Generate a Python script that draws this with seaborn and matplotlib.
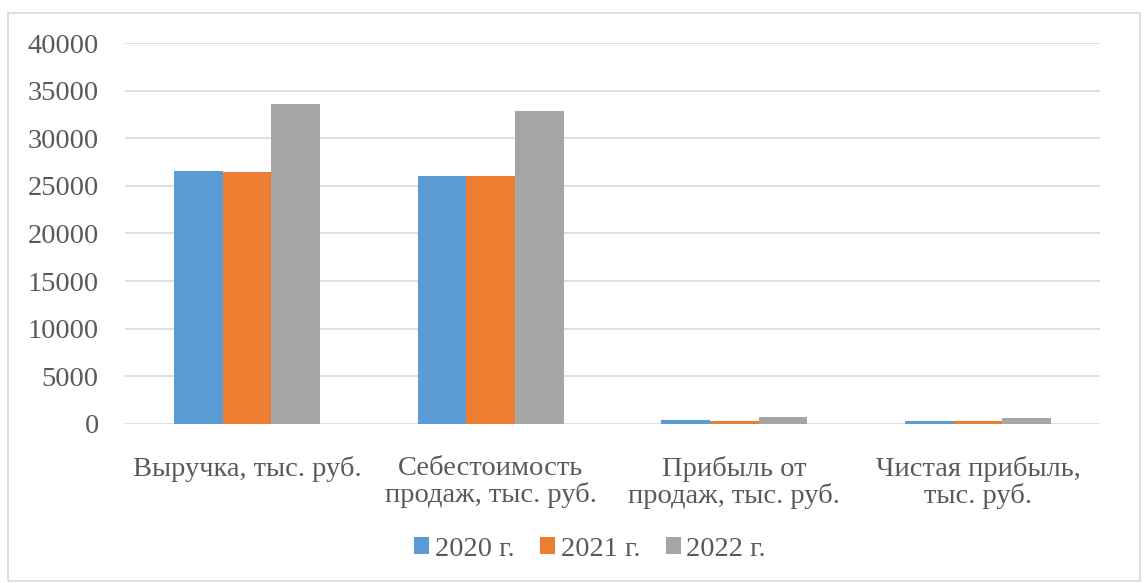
import seaborn as sns
import matplotlib.pyplot as plt
import pandas as pd
from matplotlib.patches import Rectangle

# data
categories = ["Выручка, тыс. руб.", "Себестоимость\nпродаж, тыс. руб.",
              "Прибыль от\nпродаж, тыс. руб.", "Чистая прибыль,\nтыс. руб."]
years = ["2020 г.", "2021 г.", "2022 г."]
v2020 = [26600, 26070, 450, 350]
v2021 = [26480, 26070, 320, 250]
v2022 = [33560, 32830, 730, 600]

df = pd.DataFrame({
    "cat": categories * 3,
    "year": [years[0]] * 4 + [years[1]] * 4 + [years[2]] * 4,
    "val": v2020 + v2021 + v2022,
})

sns.set_style("white")
serif = ["Liberation Serif", "DejaVu Serif"]
plt.rcParams["font.family"] = serif
txt = "#595959"
fs = 20.5

fig = plt.figure(figsize=(11.48, 5.83), dpi=100)
ax = fig.add_axes([0.109, 0.273, 0.849, 0.653])

sns.barplot(data=df, x="cat", y="val", hue="year", width=0.6,
            palette=["#5B9BD5", "#ED7D31", "#A5A5A5"], linewidth=0,
            saturation=1, ax=ax)

ax.set_ylim(0, 40000)
ax.set_yticks(range(0, 40001, 5000))
ax.yaxis.grid(True, color="#D9D9D9", linewidth=1.2)
ax.set_axisbelow(True)
for s in ax.spines.values():
    s.set_visible(False)
ax.set_xlabel("")
ax.set_ylabel("")
ax.tick_params(axis="both", length=0, labelsize=fs, colors=txt)
ax.tick_params(axis="x", pad=23)
ax.tick_params(axis="y", pad=19)
for lab in ax.get_xticklabels() + ax.get_yticklabels():
    lab.set_fontfamily(serif)
for lab in ax.get_xticklabels():
    lab.set_linespacing(1.08)

handles, labels = ax.get_legend_handles_labels()
ax.get_legend().remove()
leg = fig.legend(handles, labels, loc="center", bbox_to_anchor=(0.514, 0.058),
                 ncol=3, frameon=False, prop={"family": serif, "size": fs},
                 handlelength=0.52, handleheight=0.52, handletextpad=0.2,
                 columnspacing=0.9, borderpad=0)
for t in leg.get_texts():
    t.set_color(txt)

fig.patches.append(Rectangle((0.007, 0.003), 0.986, 0.975, transform=fig.transFigure,
                             fill=False, edgecolor="#D9D9D9", linewidth=1.2))

fig.savefig("out.png", dpi=100)
